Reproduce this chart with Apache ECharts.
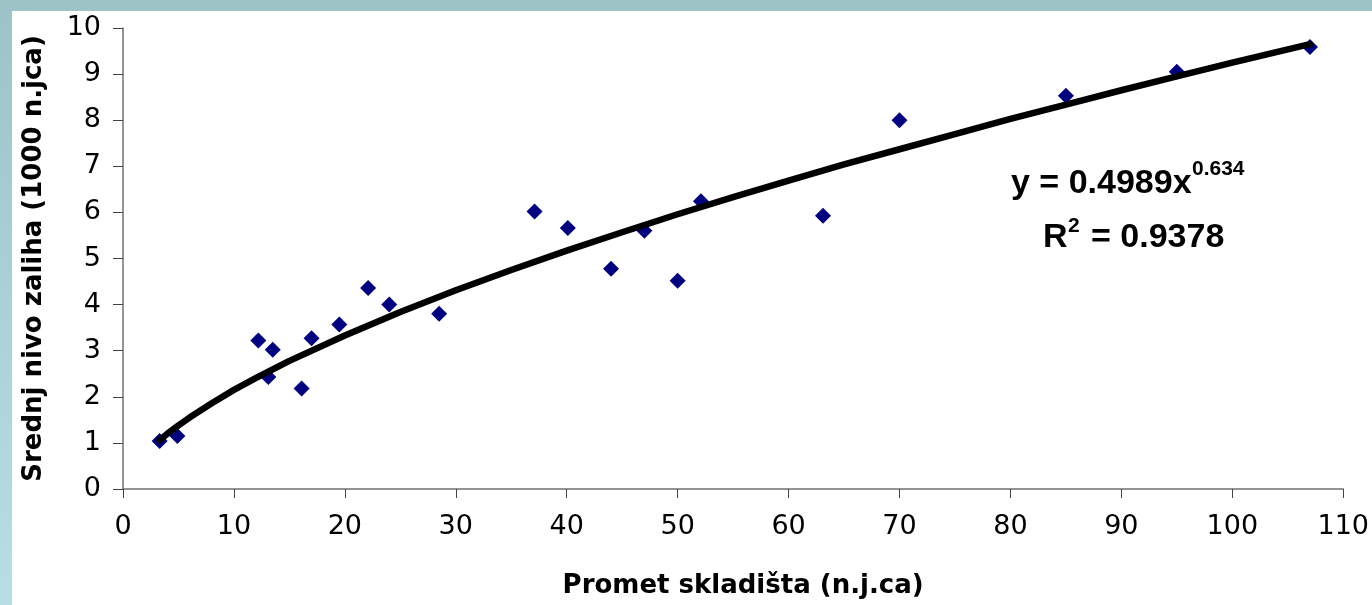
<!DOCTYPE html>
<html>
<head>
<meta charset="utf-8">
<script src="https://cdn.jsdelivr.net/npm/echarts@6.0.0/dist/echarts.min.js"></script>
<style>
    html, body { margin: 0; padding: 0; }
    body {
        width: 1372px; height: 605px; position: relative; overflow: hidden;
        background: linear-gradient(to bottom, #9cc3c6 0%, #a9d2d7 50%, #b6dfe5 100%);
    }
    #paper { position: absolute; left: 12px; top: 11px; right: 0; bottom: 0; background: #fff; }
    #chart { position: absolute; left: 0; top: 0; width: 1372px; height: 605px; }
</style>
</head>
<body>
<div id="paper"></div>
<div id="chart"></div>
<script>
// izmjereni podaci (promet skladista / srednji nivo zaliha)
var prometX = [3.3, 4.9, 12.2, 13.1, 13.5, 16.1, 17.0, 19.5, 22.1, 24.0, 28.5, 37.1, 40.1, 44.0, 47.0, 50.0, 52.1, 63.1, 70.0, 85.0, 95.0, 107.0];
var zalihaY = [1.04, 1.15, 3.22, 2.43, 3.02, 2.18, 3.27, 3.57, 4.36, 4.00, 3.80, 6.02, 5.66, 4.78, 5.60, 4.52, 6.24, 5.93, 8.00, 8.53, 9.05, 9.59];

// trend linija ocitana sa slike
var trendX = [3.3, 4, 5, 6, 8, 10, 12, 15, 20, 25, 30, 35, 40, 45, 50, 55, 60, 65, 70, 75, 80, 85, 90, 95, 100, 107];
var trendY = [1.06, 1.20, 1.38, 1.55, 1.86, 2.15, 2.41, 2.78, 3.33, 3.84, 4.31, 4.75, 5.17, 5.57, 5.96, 6.33, 6.69, 7.04, 7.37, 7.70, 8.03, 8.34, 8.65, 8.95, 9.25, 9.65];

var xTitle = 'Promet skladišta (n.j.ca)';
var yTitle = 'Srednj nivo zaliha (1000 n.jca)';

var chart = echarts.init(document.getElementById('chart'), null, {renderer: 'canvas'});

var points = prometX.map(function (x, i) { return [x, zalihaY[i]]; });
var trend = trendX.map(function (x, i) { return [x, trendY[i]]; });

var eqFont = 'bold 34px "Liberation Sans", Arial, sans-serif';
var supFont = 'bold 21px "Liberation Sans", Arial, sans-serif';

var option = {
    animation: false,
    backgroundColor: 'transparent',
    grid: {left: 123, right: 27, top: 28, bottom: 116},
    xAxis: {
        type: 'value',
        min: 0, max: 110, interval: 10,
        name: xTitle,
        nameLocation: 'middle',
        nameGap: 84,
        nameTextStyle: {fontFamily: 'DejaVu Sans', fontWeight: 'bold', fontSize: 26, color: '#000', padding: [0, 0, 0, 20]},
        splitLine: {show: false},
        axisLine: {show: true, onZero: false, lineStyle: {color: '#707070', width: 1.5}},
        axisTick: {show: true, length: 9, lineStyle: {color: '#444', width: 1}},
        axisLabel: {fontFamily: 'DejaVu Sans', fontSize: 27, color: '#000', margin: 24}
    },
    yAxis: {
        type: 'value',
        min: 0, max: 10, interval: 1,
        name: yTitle,
        nameLocation: 'middle',
        nameGap: 76,
        nameRotate: 90,
        nameTextStyle: {fontFamily: 'DejaVu Sans', fontWeight: 'bold', fontSize: 26, color: '#000'},
        splitLine: {show: false},
        axisLine: {show: true, onZero: false, lineStyle: {color: '#707070', width: 1.5}},
        axisTick: {show: true, length: 10, lineStyle: {color: '#444', width: 1}},
        axisLabel: {fontFamily: 'DejaVu Sans', fontSize: 27, color: '#000', margin: 22}
    },
    series: [
        {
            type: 'scatter',
            data: points,
            symbol: 'diamond',
            symbolSize: 16,
            itemStyle: {color: '#000080', opacity: 1},
            z: 2
        },
        {
            type: 'line',
            data: trend,
            showSymbol: false,
            symbol: 'none',
            lineStyle: {color: '#000', width: 6.5, cap: 'round', join: 'round'},
            z: 3
        }
    ],
    graphic: [
        {type: 'text', x: 1011, y: 184, style: {text: 'y = 0.4989x', font: eqFont, fill: '#000', textAlign: 'left', textVerticalAlign: 'middle'}},
        {type: 'text', x: 1192, y: 169, style: {text: '0.634', font: supFont, fill: '#000', textAlign: 'left', textVerticalAlign: 'middle'}},
        {type: 'text', x: 1043, y: 238, style: {text: 'R', font: eqFont, fill: '#000', textAlign: 'left', textVerticalAlign: 'middle'}},
        {type: 'text', x: 1068, y: 226, style: {text: '2', font: supFont, fill: '#000', textAlign: 'left', textVerticalAlign: 'middle'}},
        {type: 'text', x: 1091, y: 238, style: {text: '= 0.9378', font: eqFont, fill: '#000', textAlign: 'left', textVerticalAlign: 'middle'}}
    ]
};

chart.setOption(option);
</script>
</body>
</html>
